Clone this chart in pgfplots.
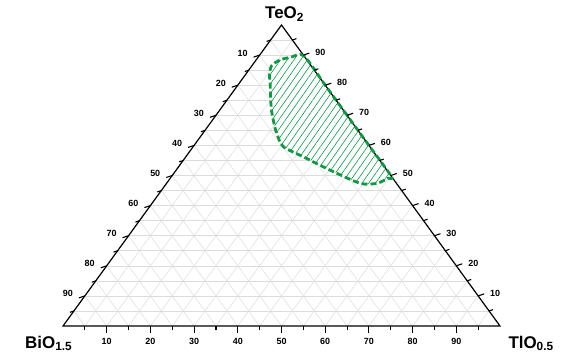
\documentclass[border=0pt]{standalone}
\usepackage{fontspec}
\setmainfont{Liberation Sans}
\usepackage{pgfplots}
\usepackage{pgfplotstable}
\pgfplotsset{compat=1.18}
\usetikzlibrary{patterns.meta}
\definecolor{regiongreen}{RGB}{20,150,70}
\definecolor{gridgray}{RGB}{220,220,220}

% glass-forming region, ternary coordinates (TlO0.5, TeO2); BiO1.5 = 100 - Tl - Te
\pgfplotstableread{
Tl Te
30 70
20 80
10.2 89.8
7.5 89.3
5.5 88.4
4.5 86.5
5.5 83.5
7.1 80.6
9.5 76.0
11.8 71.8
14.5 67.5
16.9 64.0
20.6 59.6
26.9 56.2
35.2 51.8
44.3 47.4
48.1 47.4
49.9 49.1
50.3 49.7
40 60
30 70
}\region

\newcommand{\tickfont}{\fontsize{9}{10}\selectfont\bfseries}
\newcommand{\cornerfont}{\fontsize{17}{20}\selectfont\bfseries}

\begin{document}
\begin{tikzpicture}
\useasboundingbox (-63bp,-29bp) rectangle (502bp,326bp);
\begin{axis}[hide axis, scale only axis, width=437bp, height=301bp,
  xmin=0, xmax=100, ymin=0, ymax=100, clip=false]
% grid
\pgfplotsinvokeforeach{5,10,...,95}{
  \draw[gridgray, line width=0.5bp] (axis cs:{#1/2},#1) -- (axis cs:{100-#1/2},#1);
  \draw[gridgray, line width=0.5bp] (axis cs:#1,0) -- (axis cs:{50+#1/2},{100-#1});
  \draw[gridgray, line width=0.5bp] (axis cs:{100-#1},0) -- (axis cs:{(100-#1)/2},{100-#1});
}
% region
\addplot[draw=none, fill=white, smooth, tension=0.45] table[x expr=\thisrow{Tl}+0.5*\thisrow{Te}, y=Te] {\region};
\addplot[draw=none, pattern={Lines[angle=55, distance=5.5bp, line width=0.6bp]}, pattern color=regiongreen, smooth, tension=0.45] table[x expr=\thisrow{Tl}+0.5*\thisrow{Te}, y=Te] {\region};
% triangle
\draw[black, line width=1.2bp, line join=miter] (axis cs:0,0) -- (axis cs:100,0) -- (axis cs:50,100) -- cycle;
\addplot[regiongreen, line width=2.8bp, dash pattern=on 6bp off 3bp, smooth, tension=0.45] table[x expr=\thisrow{Tl}+0.5*\thisrow{Te}, y=Te] {\region};
% minor ticks
\pgfplotsinvokeforeach{5,15,...,95}{
  \draw[line width=1.1bp] (axis cs:#1,0) -- ++(0,-4bp);
  \draw[line width=1.1bp] (axis cs:{(100-#1)/2},{100-#1}) -- ++(-4bp,-1.4bp);
  \draw[line width=1.1bp] (axis cs:{100-#1/2},#1) -- ++(4bp,1.4bp);
}
% major ticks and labels
\pgfplotsinvokeforeach{10,20,...,90}{
  \draw[line width=1.1bp] (axis cs:#1,0) -- ++(0,-7bp);
  \node[font=\tickfont] at ([yshift=-15bp]axis cs:#1,0) {#1};
  \draw[line width=1.1bp] (axis cs:{(100-#1)/2},{100-#1}) -- ++(-6bp,-2bp);
  \node[font=\tickfont, anchor=east] at ([xshift=-8.5bp,yshift=2bp]axis cs:{(100-#1)/2},{100-#1}) {#1};
  \draw[line width=1.1bp] (axis cs:{100-#1/2},#1) -- ++(6bp,2bp);
  \node[font=\tickfont, anchor=west] at ([xshift=8.5bp,yshift=2.5bp]axis cs:{100-#1/2},#1) {#1};
}
% corner labels
\node[font=\cornerfont, anchor=base west, inner sep=0pt] at ([xshift=-16.5bp,yshift=6.5bp]axis cs:50,100) {TeO\textsubscript{2}};
\node[font=\cornerfont, anchor=base west, inner sep=0pt] at ([xshift=-38bp,yshift=-22.3bp]axis cs:0,0) {BiO\textsubscript{1.5}};
\node[font=\cornerfont, anchor=base west, inner sep=0pt] at ([xshift=8.3bp,yshift=-22.3bp]axis cs:100,0) {TlO\textsubscript{0.5}};
\end{axis}
\end{tikzpicture}
\end{document}
